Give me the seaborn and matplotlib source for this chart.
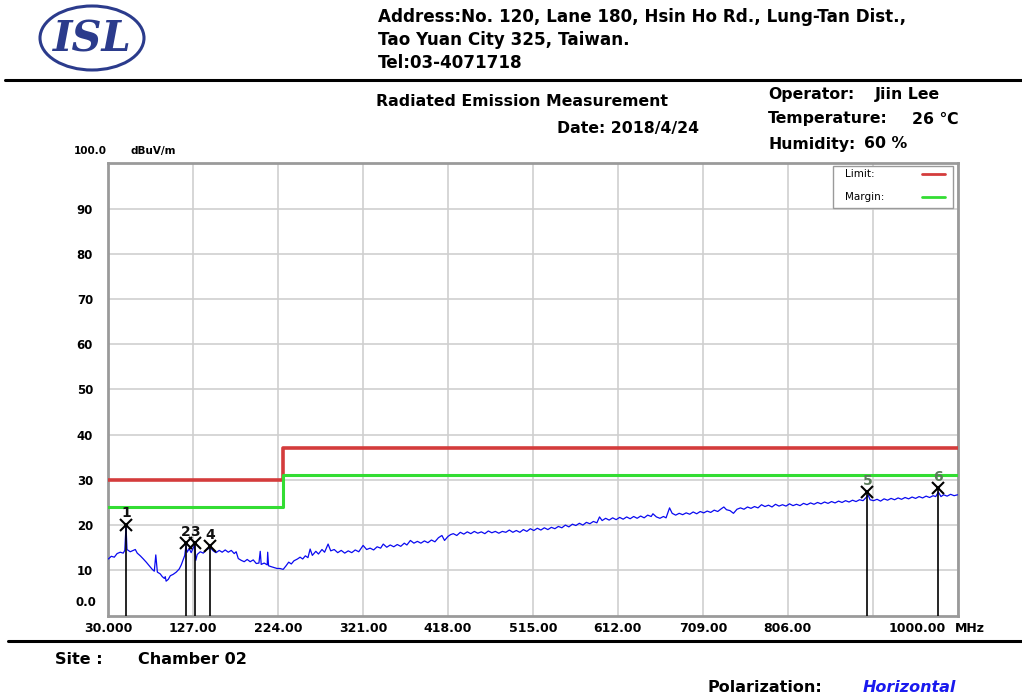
#!/usr/bin/env python3
"""
Radiated emission plot (ISL test report style)
"""

import numpy as np
import pandas as pd
import matplotlib
matplotlib.use("Agg")
import matplotlib.pyplot as plt
from matplotlib.patches import Ellipse, Rectangle
from matplotlib.lines import Line2D
import seaborn as sns

trace_freq = [
    30, 33.4, 36.8, 40, 43.6, 47, 48.8, 50.2, 51.3, 55, 58.5, 60.8, 63, 66.5, 70, 73.3,
    76.8, 80.2, 82.5, 84.2, 86, 89.3, 91.6, 94, 95, 96, 98.5, 100.8, 104, 107.6, 111,
    113.3, 115.6, 117.3, 118.6, 120, 122.4, 124.6, 128.5, 129.9, 131.5, 135, 138.4,
    141.8, 146.4, 149.8, 153, 156.7, 160, 163.5, 167, 170.4, 173.8, 176, 178.4, 181.8,
    185.2, 188.6, 192, 195.5, 199, 202, 203.5, 204.6, 208, 211.5, 212, 213, 216, 219.4,
    222.8, 226, 229.7,
    233, 236, 239, 242, 246, 249, 252, 255, 258, 260.5, 263, 267, 270, 274, 277, 281,
    284, 288, 292, 296, 300, 304, 308, 312, 316, 321, 325, 329, 333, 337, 341, 344,
    348, 352, 356, 360, 364, 368, 371, 375, 379, 383, 387, 391, 395, 399, 403, 407,
    411, 414, 418, 421, 424, 428, 432, 436, 440, 444, 448, 452, 456, 460, 464, 468,
    472, 476, 480, 484, 488, 492, 496, 500, 504, 508, 512, 516, 520, 524, 528, 532,
    536, 540, 544, 548, 552, 556, 560, 564, 568, 572, 576, 580, 584, 588, 591, 594,
    598, 602, 606, 610, 614, 618, 622, 626, 630, 634, 638, 642, 646, 650, 652, 656,
    660, 664, 667, 671, 674, 678, 682, 686, 690, 694, 698, 702, 706, 710, 714, 718,
    722, 726, 730, 733, 736, 740, 744, 748, 752, 756, 760, 764, 768, 772, 776, 780,
    784, 788, 792, 796, 800, 804, 808, 812, 816, 820, 824, 828, 832, 836, 840, 844,
    848, 852, 856, 860, 864, 868, 872, 876, 880, 884, 888, 892, 896, 898, 900, 904,
    908, 912, 916, 920, 924, 928, 932, 936, 940, 944, 948, 952, 956, 960, 964, 968,
    972, 975, 978, 981, 984, 988, 992, 996, 1000,
]
trace_level = [
    12.5, 13.1, 12.9, 13.7, 14.0, 13.8, 14.4, 19.8, 14.6, 14.1, 14.4, 14.6, 13.8, 13.2, 12.5, 11.8,
    11.0, 10.2, 9.8, 13.4, 9.6, 9.2, 8.6, 8.2, 8.6, 7.6, 8.0, 8.8, 9.1, 9.6, 10.3,
    11.2, 12.4, 13.3, 15.4, 14.0, 14.8, 13.9, 15.6, 12.2, 13.5, 14.1, 13.8,
    14.5, 15.0, 14.3, 13.9, 14.4, 14.0, 14.5, 14.0, 14.4, 13.7, 14.1, 12.6, 12.2,
    11.9, 12.4, 11.9, 12.3, 11.5, 11.6, 14.2, 11.3, 11.6, 11.2, 14.0, 11.0, 10.8, 10.6,
    10.4, 10.4, 10.2,
    11.0, 11.8, 11.4, 12.1, 12.5, 12.9, 12.5, 13.2, 12.8, 14.7, 13.3, 14.2, 13.6, 14.6, 14.0, 15.8,
    14.3, 14.6, 13.9, 14.4, 13.8, 14.3, 13.9, 14.5, 14.1, 15.5, 14.6, 14.9, 14.5, 15.2, 14.9, 15.8,
    15.1, 15.6, 15.2, 15.7, 15.3, 16.0, 15.6, 16.6, 16.0, 16.4, 16.0, 16.5, 16.1, 16.7, 16.3, 17.2,
    17.7, 16.6, 17.5, 17.9, 18.1, 17.7, 18.4, 18.0, 18.5, 18.1, 18.6, 18.2, 18.5, 18.1, 18.7, 18.3,
    18.6, 18.2, 18.6, 18.4, 18.9, 18.4, 18.8, 18.4, 19.0, 18.6, 19.2, 18.8, 19.3, 18.9, 19.4, 19.0,
    19.5, 19.2, 19.7, 19.4, 20.0, 19.6, 20.2, 19.9, 20.4, 20.0, 20.6, 20.3, 20.8, 20.5, 21.8, 21.0,
    21.5, 21.1, 21.6, 21.2, 21.7, 21.3, 21.8, 21.4, 21.9, 21.5, 22.0, 21.6, 22.2, 21.9, 22.5, 21.8,
    21.5, 21.9, 21.6, 23.8, 22.6, 22.2, 22.6, 22.3, 22.7, 22.4, 22.9, 22.5, 23.0, 22.7, 23.1, 22.8,
    23.3, 23.0, 23.6, 24.0, 23.4, 23.2, 22.6, 23.5, 23.8, 23.5, 24.0, 23.7, 24.1, 23.8, 24.5, 24.1,
    24.4, 24.0, 24.6, 24.2, 24.5, 24.2, 24.7, 24.3, 24.6, 24.3, 24.8, 24.5, 24.9, 24.6, 25.0, 24.7,
    25.1, 24.8, 25.2, 24.9, 25.3, 25.0, 25.4, 25.1, 25.5, 25.2, 25.6, 25.4, 26.2, 26.6, 25.6, 25.4,
    25.7, 25.3, 25.8, 25.5, 25.9, 25.6, 26.0, 25.7, 26.1, 25.8, 26.2, 25.9, 26.3, 26.0, 26.4, 26.1,
    26.5, 26.3, 27.3, 26.3, 26.7, 26.4, 26.8, 26.5, 26.7,
]

# limit / margin lines (step at 230 MHz)
limit_freq = [30, 230, 1000]
limit_level = [30, 37, 37]
margin_level = [24, 31, 31]

# peak markers
marker_freq = [50.2, 118.6, 128.5, 146.4, 897.0, 978.0]
marker_level = [20.1, 16.0, 16.0, 15.3, 27.3, 28.1]
marker_label = ["1", "2", "3", "4", "5", "6"]

xtick_values = [30, 127, 224, 321, 418, 515, 612, 709, 806, 903, 1000]
xtick_labels = ["30.000", "127.00", "224.00", "321.00", "418.00", "515.00",
                "612.00", "709.00", "806.00", "", ""]
ytick_values = [10, 20, 30, 40, 50, 60, 70, 80, 90]

sns.set_style("white")
plt.rcParams["font.family"] = ["DejaVu Sans"]
plt.rcParams["text.color"] = "black"
plt.rcParams["xtick.color"] = "black"
plt.rcParams["ytick.color"] = "black"

fig = plt.figure(figsize=(10.22, 6.97), dpi=100)
ax = fig.add_axes([0.106, 0.1169, 0.831, 0.6488])

df = pd.DataFrame({"freq": trace_freq, "level": trace_level})
sns.lineplot(data=df, x="freq", y="level", ax=ax, color="#0a0af0", lw=0.9,
             estimator=None, sort=False, zorder=4)

ax.plot(limit_freq, limit_level, drawstyle="steps-post", color="#d43c3c", lw=2.6, zorder=3)
ax.plot(limit_freq, margin_level, drawstyle="steps-post", color="#33dd33", lw=2.2, zorder=3)

# markers: x on the peak, line down to the axis, number above
for f, lv, lab in zip(marker_freq, marker_level, marker_label):
    ax.vlines(f, 0, lv, color="black", lw=1.2, zorder=5)
    ax.plot(f, lv, marker="x", color="black", ms=8, mew=1.5, zorder=6)
    ax.text(f, lv + 1.0, lab, ha="center", va="bottom", fontsize=10, fontweight="bold",
            color="#111111" if f < 500 else "#5a7a5a", zorder=6)

ax.set_xlim(30, 1000)
ax.set_ylim(0, 100)
ax.set_xticks(xtick_values)
ax.set_xticklabels(xtick_labels, fontsize=9, fontweight="bold")
ax.set_yticks(ytick_values)
ax.set_yticklabels([str(v) for v in ytick_values], fontsize=8.5, fontweight="bold")
ax.tick_params(axis="both", length=0, labelcolor="black")
ax.tick_params(axis="x", pad=5)
ax.tick_params(axis="y", pad=11)
ax.grid(True, color="#cfcfcf", lw=1.2)
ax.set_axisbelow(True)
ax.set_xlabel("")
ax.set_ylabel("")
for s in ax.spines.values():
    s.set_color("#9a9a9a")
    s.set_linewidth(2)

ax.text(0.986, -0.014, "1000.00", transform=ax.transAxes, ha="right", va="top",
        fontsize=9, fontweight="bold")
ax.text(0.997, -0.014, "MHz", transform=ax.transAxes, ha="left", va="top",
        fontsize=9, fontweight="bold")
ax.text(-0.026, 0.028, "0.0", transform=ax.transAxes, ha="center", va="center",
        fontsize=8.5, fontweight="bold")
ax.text(-0.021, 1.027, "100.0", transform=ax.transAxes, ha="center", va="center",
        fontsize=7.5, fontweight="bold")
ax.text(0.026, 1.027, "dBuV/m", transform=ax.transAxes, ha="left", va="center",
        fontsize=7.5, fontweight="bold")

# legend box
ax.add_patch(Rectangle((0.853, 0.901), 0.1415, 0.093, transform=ax.transAxes,
                       facecolor="white", edgecolor="#9a9a9a", lw=1, zorder=7))
ax.text(0.867, 0.976, "Limit:", transform=ax.transAxes, va="center", fontsize=7.5, zorder=8)
ax.text(0.867, 0.925, "Margin:", transform=ax.transAxes, va="center", fontsize=7.5, zorder=8)
ax.add_line(Line2D([0.958, 0.985], [0.976, 0.976], transform=ax.transAxes,
                   color="#d43c3c", lw=2, zorder=8))
ax.add_line(Line2D([0.958, 0.985], [0.925, 0.925], transform=ax.transAxes,
                   color="#33dd33", lw=2, zorder=8))

# header
W, H = 1022.0, 697.0
def fx(px):
    return px / W
def fy(py):
    return 1 - py / H

fig.patches.append(Ellipse((fx(92), fy(38)), 104 / W, 64 / H, transform=fig.transFigure,
                           facecolor="white", edgecolor="#2b3b8c", lw=2.2))
fig.text(fx(92), fy(40), "ISL", ha="center", va="center", fontsize=30,
         family="DejaVu Serif", fontweight="bold", style="italic", color="#2b3b8c")

addr = ["Address:No. 120, Lane 180, Hsin Ho Rd., Lung-Tan Dist.,",
        "Tao Yuan City 325, Taiwan.",
        "Tel:03-4071718"]
for i, line in enumerate(addr):
    fig.text(fx(378), fy(17 + 23 * i), line, ha="left", va="center",
             fontsize=12.1, fontweight="bold")

fig.add_artist(Line2D([fx(5), fx(1022)], [fy(80), fy(80)], transform=fig.transFigure,
                      color="black", lw=2.2))

HS = 11.3
fig.text(fx(376), fy(101), "Radiated Emission Measurement", ha="left", va="center",
         fontsize=HS, fontweight="bold")
fig.text(fx(557), fy(129), "Date: 2018/4/24", ha="left", va="center",
         fontsize=HS, fontweight="bold")
fig.text(fx(768), fy(95), "Operator:", ha="left", va="center", fontsize=HS, fontweight="bold")
fig.text(fx(875), fy(95), "Jiin Lee", ha="left", va="center", fontsize=HS, fontweight="bold")
fig.text(fx(768), fy(119), "Temperature:", ha="left", va="center", fontsize=HS, fontweight="bold")
fig.text(fx(912), fy(119), "26 \u2103", ha="left", va="center", fontsize=HS, fontweight="bold")
fig.text(fx(768), fy(144), "Humidity:", ha="left", va="center", fontsize=HS, fontweight="bold")
fig.text(fx(864), fy(144), "60 %", ha="left", va="center", fontsize=HS, fontweight="bold")

# footer
fig.add_artist(Line2D([fx(8), fx(1022)], [fy(641), fy(641)], transform=fig.transFigure,
                      color="black", lw=2.2))
FS = 11.5
fig.text(fx(55), fy(660), "Site :", ha="left", va="center", fontsize=FS, fontweight="bold")
fig.text(fx(138), fy(660), "Chamber 02", ha="left", va="center", fontsize=FS, fontweight="bold")
fig.text(fx(707), fy(687), "Polarization:", ha="left", va="center", fontsize=FS, fontweight="bold")
fig.text(fx(863), fy(687), "Horizontal", ha="left", va="center", fontsize=FS,
         fontweight="bold", style="italic", color="#1a1aee")

fig.savefig("out.png", dpi=100)
plt.close(fig)
